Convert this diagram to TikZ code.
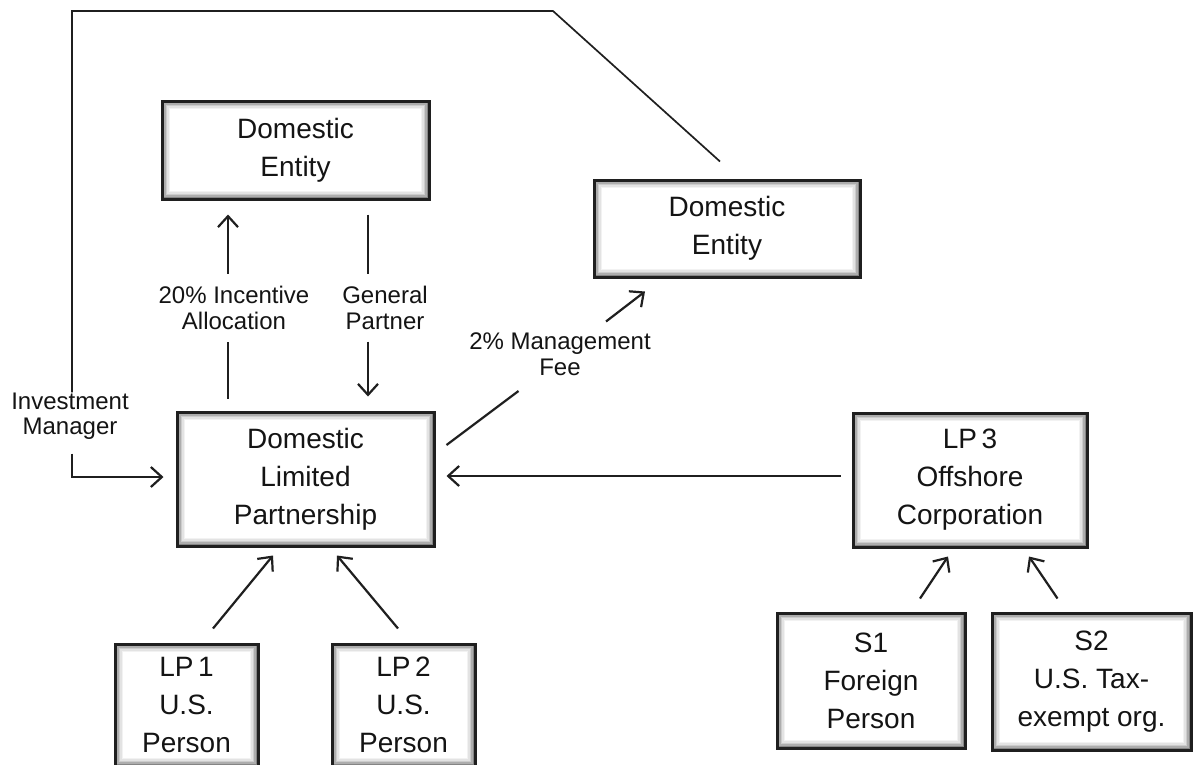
\documentclass[tikz,border=0pt]{standalone}
\usepackage{fontspec}
\setmainfont{Liberation Sans}
\usetikzlibrary{arrows.meta}

\tikzset{
  ink/.style={draw=black!88},
  entitybox/.style={
    ink, line width=3pt, fill=white, align=center, inner sep=0pt,
    text=black!92, font=\fontsize{28}{38}\selectfont,
    path picture={
      \foreach \i/\c in {1/48,2/32,3/20,4/11,5/5}{
        \draw[line width=1.6pt, draw=black!\c]
          ([shift={(\i*1.5pt,-\i*1.5pt)}]path picture bounding box.north west)
          rectangle
          ([shift={(-\i*1.5pt,\i*1.5pt)}]path picture bounding box.south east);
      }
    }
  },
  conn/.style={ink, line width=2.2pt},
  longconn/.style={ink, line width=1.7pt},
  tip/.style={-{Straight Barb[length=11pt,width=20pt,line width=2.2pt]}},
  caption/.style={align=center, text=black!92, inner sep=0pt,
    font=\fontsize{24}{25.5}\selectfont},
}

\begin{document}
\begin{tikzpicture}[x=1pt,y=-1pt]
  \clip (0,0) rectangle (1193,764);
  \fill[white] (0,0) rectangle (1193,764);

  % boxes
  \node[entitybox, minimum width=267, minimum height=98] (de1) at (295.5,150) {Domestic\\Entity};
  \node[entitybox, minimum width=266, minimum height=97] (de2) at (727,228.5) {Domestic\\Entity};
  \node[entitybox, minimum width=257, minimum height=134] (dlp) at (305.5,479) {Domestic\\Limited\\Partnership};
  \node[entitybox, minimum width=234, minimum height=134] (lp3) at (970,480) {LP\,3\\Offshore\\Corporation};
  \node[entitybox, minimum width=143, minimum height=122] (lp1) at (186.5,705) {LP\,1\\U.S.\\Person};
  \node[entitybox, minimum width=143, minimum height=122] (lp2) at (403.5,705) {LP\,2\\U.S.\\Person};
  \node[entitybox, minimum width=188, minimum height=135] (s1) at (871,680.5) {S1\\Foreign\\Person};
  \node[entitybox, minimum width=199, minimum height=137] (s2) at (1091.5,681.5) {S2\\U.S. Tax-\\exempt org.};

  % labels
  \node[caption] (lblim) at (70,416) {Investment\\Manager};
  \node[caption] (lblinc) at (234,308) {20\% Incentive\\Allocation};
  \node[caption] (lblgp) at (385,308) {General\\Partner};
  \node[caption] (lblfee) at (560,354) {2\% Management\\Fee};

  % investment manager loop, broken around its label
  \coordinate (imtop) at (553,11);
  \coordinate (imcorner) at (72,11);
  \draw[longconn] ([shift={(-7,-17)}]de2.north) -- (imtop) -- (imcorner)
    -- (lblim.north -| imcorner) -- ++(0,-4);
  \draw[longconn, tip] ([shift={(0,14)}]lblim.south -| imcorner)
    |- ([shift={(-12,-2)}]dlp.west);

  % incentive allocation
  \draw[conn] ([shift={(-77.5,-12)}]dlp.north) -- ++(0,-57);
  \draw[conn, tip] ([shift={(-67.5,14)}]de1.south) ++(0,59) -- ([shift={(-67.5,14)}]de1.south);

  % general partner
  \draw[conn] ([shift={(72.5,14)}]de1.south) -- ++(0,59);
  \draw[conn, tip] ([shift={(62.5,-14)}]dlp.north) ++(0,-55) -- ([shift={(62.5,-14)}]dlp.north);

  % management fee
  \draw[conn] ([shift={(11,-34)}]dlp.east) -- ++(72,-54);
  \draw[conn, tip] ([shift={(-82,13)}]de2.south) ++(-39,30) -- ([shift={(-82,13)}]de2.south);

  % offshore corporation to partnership
  \draw[conn, tip] ([shift={(-11,-4)}]lp3.west) -- ([shift={(11,-3)}]dlp.east);

  % limited partners
  \draw[conn, tip] ([shift={(26.5,-14)}]lp1.north) -- ([shift={(-32.5,8)}]dlp.south);
  \draw[conn, tip] ([shift={(-5.5,-14)}]lp2.north) -- ([shift={(31.5,8)}]dlp.south);
  \draw[conn, tip] ([shift={(49,-13)}]s1.north) -- ([shift={(-22,8)}]lp3.south);
  \draw[conn, tip] ([shift={(-34,-13)}]s2.north) -- ([shift={(59,8)}]lp3.south);
\end{tikzpicture}
\end{document}
